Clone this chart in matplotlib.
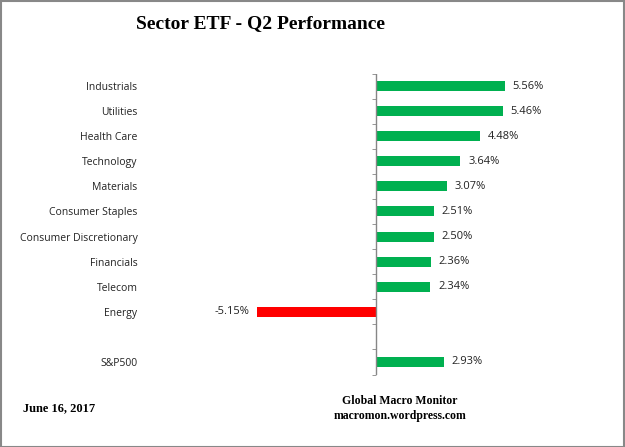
import matplotlib.pyplot as plt
import matplotlib.transforms as mtransforms
import numpy as np

sectors = ["Industrials", "Utilities", "Health Care", "Technology", "Materials",
           "Consumer Staples", "Consumer Discretionary", "Financials", "Telecom",
           "Energy", "", "S&P500"]
returns = [5.56, 5.46, 4.48, 3.64, 3.07, 2.51, 2.50, 2.36, 2.34, -5.15, None, 2.93]

fig = plt.figure(figsize=(6.25, 4.47), dpi=100)
W, H = 625, 447
# axes placed so zero line sits at x=376 px, rows from y=73.5 to 374.5
ax = fig.add_axes([200 / W, 1 - 374.5 / H, 360 / W, 301 / H])

n = len(sectors)
ypos = np.arange(n)
for y, v in zip(ypos, returns):
    if v is None:
        continue
    col = "#00B050" if v >= 0 else "#FF0000"
    ax.barh(y, v, height=0.4, color=col)
    lab = "%.2f%%" % v
    if v >= 0:
        ax.text(v + 0.33, y, lab, va="center", ha="left", fontsize=8,
                family="Open Sans", color="#222222")
    else:
        ax.text(v - 0.3, y, lab, va="center", ha="right", fontsize=8,
                family="Open Sans", color="#222222")

ax.set_xlim(-7.59, 7.93)
ax.set_ylim(n - 0.5, -0.5)
for s in ["top", "right", "bottom", "left"]:
    ax.spines[s].set_visible(False)
ax.axvline(0, color="#868686", lw=1)
ax.set_xticks([])

ax.set_yticks(ypos)
ax.set_yticklabels(sectors, fontsize=7.5, family="Open Sans", color="#222222")
ax.tick_params(axis="y", which="major", length=0, pad=45)
ax.set_yticks(np.arange(-0.5, n, 1), minor=True)
ax.tick_params(axis="y", which="minor", length=3, color="#868686")
# move minor ticks to the zero line
shift = mtransforms.ScaledTranslation(176 / 100, 0, fig.dpi_scale_trans)
for t in ax.yaxis.get_minor_ticks():
    t.tick1line.set_transform(ax.get_yaxis_transform() + shift)

fig.text(261 / W, 1 - 24 / H, "Sector ETF - Q2 Performance", ha="center", va="center",
         fontsize=14, fontweight="bold", family="Liberation Serif")
fig.text(23 / W, 1 - 408 / H, "June 16, 2017", ha="left", va="center",
         fontsize=9, fontweight="bold", family="Liberation Serif")
fig.text(400 / W, 1 - 401 / H, "Global Macro Monitor", ha="center", va="center",
         fontsize=8.5, fontweight="bold", family="Liberation Serif")
fig.text(400 / W, 1 - 416 / H, "macromon.wordpress.com", ha="center", va="center",
         fontsize=8.5, fontweight="bold", family="Liberation Serif")

fig.patches.append(plt.Rectangle((0.001, 0.001), 0.997, 0.997, transform=fig.transFigure,
                                 fill=False, edgecolor="#888888", lw=1.5))

fig.savefig("out.png", dpi=100)
